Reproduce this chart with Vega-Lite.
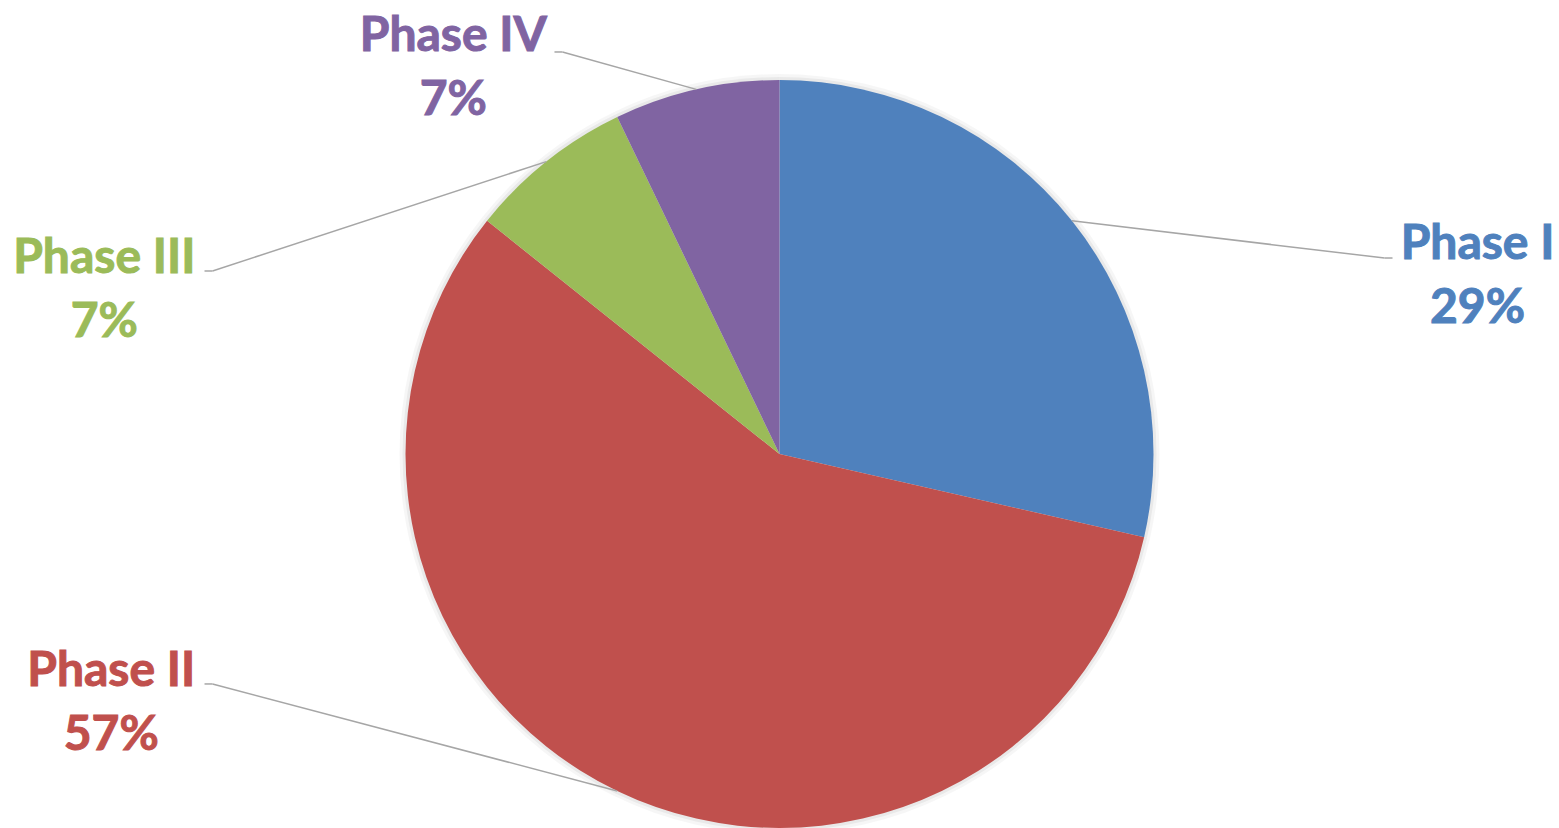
{
  "$schema": "https://vega.github.io/schema/vega-lite/v6.json",
  "width": 1559,
  "height": 748,
  "autosize": {"type": "none"},
  "padding": {"left": 0, "right": 0, "top": 80, "bottom": 0},
  "background": "white",
  "config": {"view": {"stroke": null}},
  "data": {
    "values": [
      {"phase": "Phase I", "count": 4},
      {"phase": "Phase II", "count": 8},
      {"phase": "Phase III", "count": 1},
      {"phase": "Phase IV", "count": 1}
    ]
  },
  "transform": [
    {"joinaggregate": [{"op": "sum", "field": "count", "as": "total"}]},
    {"stack": "count", "groupby": [], "sort": [{"field": "phase", "order": "ascending"}], "as": ["c0", "c1"]},
    {"calculate": "PI*(datum.c0+datum.c1)/datum.total", "as": "mid"},
    {"calculate": "sin(datum.mid)", "as": "sx"},
    {"calculate": "cos(datum.mid)", "as": "sy"},
    {"calculate": "[datum.phase, format(datum.count/datum.total, '.0%')]", "as": "label"}
  ],
  "layer": [
    {
      "mark": {"type": "arc", "radius": 380, "color": "#000000", "opacity": 0.035},
      "encoding": {
        "theta": {"field": "count", "type": "quantitative", "stack": true},
        "order": {"field": "c0", "type": "quantitative", "sort": "ascending"}
      }
    },
    {
      "mark": {"type": "arc", "radius": 377, "color": "#000000", "opacity": 0.05},
      "encoding": {
        "theta": {"field": "count", "type": "quantitative", "stack": true},
        "order": {"field": "c0", "type": "quantitative", "sort": "ascending"}
      }
    },
    {
      "mark": {"type": "arc", "radius": 374},
      "encoding": {
        "theta": {"field": "count", "type": "quantitative", "stack": true},
        "order": {"field": "c0", "type": "quantitative", "sort": "ascending"},
        "color": {
          "field": "phase",
          "type": "nominal",
          "scale": {
            "domain": ["Phase I", "Phase II", "Phase III", "Phase IV"],
            "range": ["#4F81BD", "#C0504D", "#9BBB59", "#8064A2"]
          },
          "legend": null
        }
      }
    },
    {
      "encoding": {
        "x": {"field": "sx", "type": "quantitative", "scale": {"domain": [-2.0842, 2.0842], "nice": false, "zero": false}, "axis": null},
        "y": {"field": "sy", "type": "quantitative", "scale": {"domain": [-1, 1], "nice": false, "zero": false}, "axis": null}
      },
      "layer": [
        {"transform": [{"filter": "datum.phase === 'Phase I'"}], "mark": {"type": "rule", "color": "#A6A6A6", "strokeWidth": 1.5, "x2Offset": 312.6, "y2Offset": 37.2}, "encoding": {"x2": {"field": "sx"}, "y2": {"field": "sy"}}},
        {"transform": [{"filter": "datum.phase === 'Phase I'"}], "mark": {"type": "rule", "color": "#A6A6A6", "strokeWidth": 1.5, "xOffset": 312.6, "yOffset": 37.2, "x2Offset": 320.6, "y2Offset": 37.2}, "encoding": {"x2": {"field": "sx"}, "y2": {"field": "sy"}}},
        {"transform": [{"filter": "datum.phase === 'Phase II'"}], "mark": {"type": "rule", "color": "#A6A6A6", "strokeWidth": 1.5, "x2Offset": -404.7, "y2Offset": -107}, "encoding": {"x2": {"field": "sx"}, "y2": {"field": "sy"}}},
        {"transform": [{"filter": "datum.phase === 'Phase II'"}], "mark": {"type": "rule", "color": "#A6A6A6", "strokeWidth": 1.5, "xOffset": -404.7, "yOffset": -107, "x2Offset": -412.7, "y2Offset": -107}, "encoding": {"x2": {"field": "sx"}, "y2": {"field": "sy"}}},
        {"transform": [{"filter": "datum.phase === 'Phase III'"}], "mark": {"type": "rule", "color": "#A6A6A6", "strokeWidth": 1.5, "x2Offset": -333.8, "y2Offset": 109.4}, "encoding": {"x2": {"field": "sx"}, "y2": {"field": "sy"}}},
        {"transform": [{"filter": "datum.phase === 'Phase III'"}], "mark": {"type": "rule", "color": "#A6A6A6", "strokeWidth": 1.5, "xOffset": -333.8, "yOffset": 109.4, "x2Offset": -341.8, "y2Offset": 109.4}, "encoding": {"x2": {"field": "sx"}, "y2": {"field": "sy"}}},
        {"transform": [{"filter": "datum.phase === 'Phase IV'"}], "mark": {"type": "rule", "color": "#A6A6A6", "strokeWidth": 1.5, "x2Offset": -133.8, "y2Offset": -37.4}, "encoding": {"x2": {"field": "sx"}, "y2": {"field": "sy"}}},
        {"transform": [{"filter": "datum.phase === 'Phase IV'"}], "mark": {"type": "rule", "color": "#A6A6A6", "strokeWidth": 1.5, "xOffset": -133.8, "yOffset": -37.4, "x2Offset": -141.8, "y2Offset": -37.4}, "encoding": {"x2": {"field": "sx"}, "y2": {"field": "sy"}}},
        {"transform": [{"filter": "datum.phase === 'Phase I'"}], "mark": {"type": "text", "font": "Lato", "fontWeight": "bold", "fontSize": 48, "lineHeight": 64, "align": "center", "baseline": "alphabetic", "strokeWidth": 1, "dx": 405.6, "dy": 38}, "encoding": {"text": {"field": "label", "type": "nominal"}, "color": {"field": "phase", "type": "nominal", "legend": null}, "stroke": {"field": "phase", "type": "nominal", "scale": {"domain": ["Phase I", "Phase II", "Phase III", "Phase IV"], "range": ["#4F81BD", "#C0504D", "#9BBB59", "#8064A2"]}, "legend": null}}},
        {"transform": [{"filter": "datum.phase === 'Phase II'"}], "mark": {"type": "text", "font": "Lato", "fontWeight": "bold", "fontSize": 48, "lineHeight": 64, "align": "center", "baseline": "alphabetic", "strokeWidth": 1, "dx": -506, "dy": -105}, "encoding": {"text": {"field": "label", "type": "nominal"}, "color": {"field": "phase", "type": "nominal", "legend": null}, "stroke": {"field": "phase", "type": "nominal", "legend": null}}},
        {"transform": [{"filter": "datum.phase === 'Phase III'"}], "mark": {"type": "text", "font": "Lato", "fontWeight": "bold", "fontSize": 48, "lineHeight": 64, "align": "center", "baseline": "alphabetic", "strokeWidth": 1, "dx": -442, "dy": 111}, "encoding": {"text": {"field": "label", "type": "nominal"}, "color": {"field": "phase", "type": "nominal", "legend": null}, "stroke": {"field": "phase", "type": "nominal", "legend": null}}},
        {"transform": [{"filter": "datum.phase === 'Phase IV'"}], "mark": {"type": "text", "font": "Lato", "fontWeight": "bold", "fontSize": 48, "lineHeight": 64, "align": "center", "baseline": "alphabetic", "strokeWidth": 1, "dx": -243, "dy": -38}, "encoding": {"text": {"field": "label", "type": "nominal"}, "color": {"field": "phase", "type": "nominal", "legend": null}, "stroke": {"field": "phase", "type": "nominal", "legend": null}}}
      ]
    }
  ]
}
